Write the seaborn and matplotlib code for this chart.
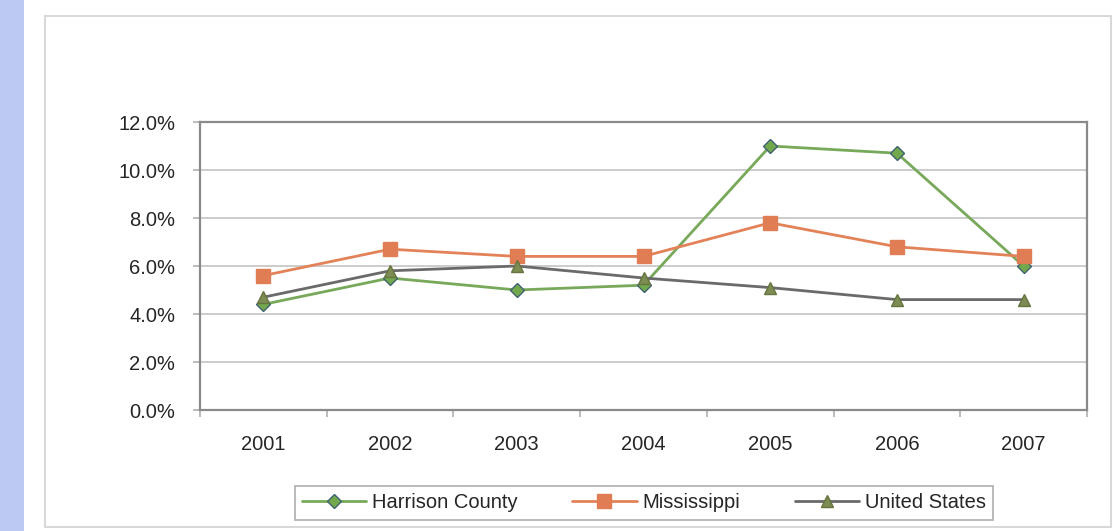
import matplotlib
matplotlib.use("Agg")
import matplotlib.pyplot as plt
from matplotlib.patches import Rectangle
from matplotlib.ticker import FuncFormatter, FixedLocator, MultipleLocator
import pandas as pd
import seaborn as sns

# Unemployment rate by year (percent)
years = ["2001", "2002", "2003", "2004", "2005", "2006", "2007"]
harrison_county = [4.4, 5.5, 5.0, 5.2, 11.0, 10.7, 6.0]
mississippi = [5.6, 6.7, 6.4, 6.4, 7.8, 6.8, 6.4]
united_states = [4.7, 5.8, 6.0, 5.5, 5.1, 4.6, 4.6]

series_names = ["Harrison County", "Mississippi", "United States"]
y_ticks = [0, 2, 4, 6, 8, 10, 12]

df = pd.DataFrame({
    "Year": years * 3,
    "Rate": harrison_county + mississippi + united_states,
    "Area": [series_names[0]] * 7 + [series_names[1]] * 7 + [series_names[2]] * 7,
})

sns.set_theme(style="white")
plt.rcParams["font.family"] = ["Liberation Sans", "DejaVu Sans"]

fig = plt.figure(figsize=(11.14, 5.31), dpi=100)
fig.patch.set_facecolor("white")

# blue strip on the left edge and the light chart frame
fig.patches.append(Rectangle((0, 0), 24 / 1114, 1, transform=fig.transFigure,
                             facecolor="#bccaf3", edgecolor="none", zorder=-5))
fig.patches.append(Rectangle((45 / 1114, 4 / 531), 1066 / 1114, 511 / 531,
                             transform=fig.transFigure, facecolor="white",
                             edgecolor="#d8d8d8", linewidth=1.5, zorder=-5))

ax = fig.add_axes([200 / 1114, (531 - 410) / 531, 887 / 1114, 288 / 531])
ax.set_zorder(2)
ax.set_facecolor("white")

line_colors = {"Harrison County": "#78a85a",
               "Mississippi": "#e38258",
               "United States": "#6a6a6a"}
markers = {"Harrison County": "D", "Mississippi": "s", "United States": "^"}

sns.lineplot(data=df, x="Year", y="Rate", hue="Area", style="Area",
             palette=line_colors, markers=markers, dashes=False,
             linewidth=2.0, ax=ax, legend=False, sort=False)

marker_style = {
    "Harrison County": dict(ms=7, mfc="#72a84e", mec="#3f6270", mew=1.0),
    "Mississippi": dict(ms=10, mfc="#e07d55", mec="#e07d55", mew=1.0),
    "United States": dict(ms=8.5, mfc="#7c8c52", mec="#66743f", mew=1.0),
}
for line, name in zip(ax.lines, series_names):
    line.set_markersize(marker_style[name]["ms"])
    line.set_markerfacecolor(marker_style[name]["mfc"])
    line.set_markeredgecolor(marker_style[name]["mec"])
    line.set_markeredgewidth(marker_style[name]["mew"])

ax.set_xlim(-0.5, len(years) - 0.5)
ax.set_ylim(0, 12)
ax.yaxis.set_major_locator(FixedLocator(y_ticks))
ax.yaxis.set_major_formatter(FuncFormatter(lambda v, p: f"{v:.1f}%"))
ax.yaxis.grid(True, color="#c4c4c4", linewidth=1.2)
ax.set_axisbelow(True)
ax.set_xlabel("")
ax.set_ylabel("")

for side in ["left", "right", "top", "bottom"]:
    ax.spines[side].set_visible(True)
    ax.spines[side].set_color("#8a8a8a")
    ax.spines[side].set_linewidth(1.6)

# tick marks sit at category boundaries on the x axis
ax.xaxis.set_minor_locator(MultipleLocator(1, offset=0.5))
ax.tick_params(axis="x", which="major", length=0, pad=18, labelsize=14.5,
               labelcolor="#262626")
ax.tick_params(axis="x", which="minor", length=5, width=1.2, color="#b0b0b0",
               direction="out", bottom=True)
ax.tick_params(axis="y", which="major", length=5, width=1.2, color="#b0b0b0",
               direction="out", left=True, pad=13, labelsize=14.5,
               labelcolor="#262626")

handles = []
for name in series_names:
    h, = ax.plot([], [], color=line_colors[name], linewidth=2.0,
                 marker=markers[name], markersize=marker_style[name]["ms"],
                 markerfacecolor=marker_style[name]["mfc"],
                 markeredgecolor=marker_style[name]["mec"])
    handles.append(h)

leg = fig.legend(handles, series_names, loc="center",
                 bbox_to_anchor=(644 / 1114, (531 - 503) / 531), ncol=3,
                 frameon=True, fancybox=False, shadow=False,
                 fontsize=14.5, handlelength=3.2, handletextpad=0.3,
                 columnspacing=2.7, borderpad=0.35, borderaxespad=0)
leg.get_frame().set_edgecolor("#9a9a9a")
leg.get_frame().set_linewidth(1.2)
for t in leg.get_texts():
    t.set_color("#262626")

fig.savefig("out.png", dpi=100, facecolor=fig.get_facecolor())
